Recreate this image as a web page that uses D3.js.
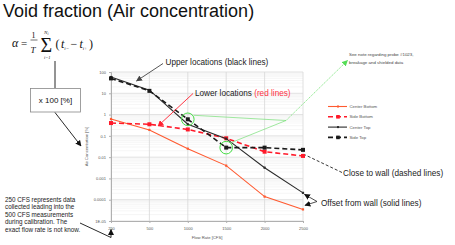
<!DOCTYPE html>
<html>
<head>
<meta charset="utf-8">
<script src="https://cdn.jsdelivr.net/npm/d3@7"></script>
<style>
  body { margin: 0; background: #fff; }
  svg { display: block; font-family: "Liberation Sans", Arial, sans-serif; }
</style>
</head>
<body>
<svg width="455" height="245"></svg>
<script>
// flow rates (categorical, equally spaced)
var flowRates = ["250", "500", "1000", "1500", "2000", "2500"];
var centerBottom = [0.62, 0.19, 0.025, 0.004, 0.00014, 0.000035];
var sideBottom = [0.40, 0.35, 0.20, 0.077, 0.018, 0.0114];
var centerTop = [58, 14, 0.35, 0.074, 0.0032, 0.00021];
var sideTop = [50, 13, 0.6, 0.028, 0.028, 0.022];
var yTicks = [100, 10, 1, 0.1, 0.01, 0.001, 0.0001, 0.00001];
var yTickLabels = ["100", "10", "1", "0.1", "0.01", "0.001", "0.0001", "1E-05"];

var series = [
  {name: "Center Bottom", values: centerBottom, color: "#ff5a30", dash: null, width: 1.1, marker: "small"},
  {name: "Side Bottom", values: sideBottom, color: "#ff1a2a", dash: "5,3", width: 1.6, marker: "square"},
  {name: "Center Top", values: centerTop, color: "#2a2a2a", dash: null, width: 1.1, marker: "small"},
  {name: "Side Top", values: sideTop, color: "#1a1a1a", dash: "5,3", width: 1.6, marker: "square"}
];

var svg = d3.select("svg");
var plot = {left: 111, right: 303, top: 72, bottom: 221};

var x = d3.scalePoint().domain(flowRates).range([plot.left, plot.right]);
var y = d3.scaleLog().domain([1e-5, 100]).range([plot.bottom, plot.top]);

// arrow markers
var defs = svg.append("defs");
function arrowMarker(id, color) {
  defs.append("marker")
    .attr("id", id)
    .attr("viewBox", "0 0 10 10")
    .attr("refX", 9).attr("refY", 5)
    .attr("markerWidth", 6).attr("markerHeight", 6)
    .attr("markerUnits", "userSpaceOnUse")
    .attr("orient", "auto")
    .append("path").attr("d", "M0,0 L10,5 L0,10 z").attr("fill", color);
}
arrowMarker("arBlack", "#111");
arrowMarker("arGray", "#444");
arrowMarker("arRed", "#ff2030");
arrowMarker("arGreen", "#55dd55");

// title
svg.append("text").attr("x", 3).attr("y", 17)
  .style("font-size", "18px").attr("fill", "#111")
  .text("Void fraction (Air concentration)");

// grid: minor horizontal
var minor = [];
for (var e = -5; e < 2; e++) {
  for (var m = 2; m <= 9; m++) minor.push(m * Math.pow(10, e));
}
var grid = svg.append("g");
grid.selectAll("line.minor").data(minor).enter().append("line")
  .attr("x1", plot.left).attr("x2", plot.right)
  .attr("y1", d => y(d)).attr("y2", d => y(d))
  .attr("stroke", "#ececec").attr("stroke-width", 0.5);
grid.selectAll("line.major").data(yTicks).enter().append("line")
  .attr("x1", plot.left).attr("x2", plot.right)
  .attr("y1", d => y(d)).attr("y2", d => y(d))
  .attr("stroke", "#d4d4d4").attr("stroke-width", 0.7);
grid.selectAll("line.vert").data(flowRates).enter().append("line")
  .attr("x1", d => x(d)).attr("x2", d => x(d))
  .attr("y1", plot.top).attr("y2", plot.bottom)
  .attr("stroke", "#d8d8d8").attr("stroke-width", 0.8);

// axes
var yAxis = svg.append("g").attr("transform", "translate(" + plot.left + ",0)")
  .call(d3.axisLeft(y).tickValues(yTicks).tickSize(2)
    .tickFormat((d, i) => yTickLabels[i]));
yAxis.select(".domain").attr("stroke", "#b0b0b0");
yAxis.selectAll(".tick line").attr("stroke", "#b0b0b0");
yAxis.selectAll("text").attr("fill", "#555").style("font-size", "4px")
  .attr("font-family", "Liberation Sans, Arial, sans-serif");

var xAxis = svg.append("g").attr("transform", "translate(0," + plot.bottom + ")")
  .call(d3.axisBottom(x).tickSize(2));
xAxis.select(".domain").attr("stroke", "#b0b0b0");
xAxis.selectAll(".tick line").attr("stroke", "#b0b0b0");
xAxis.selectAll("text").attr("fill", "#555").style("font-size", "4px")
  .attr("font-family", "Liberation Sans, Arial, sans-serif").attr("dy", "0.9em");

svg.append("text").attr("x", (plot.left + plot.right) / 2 + 0).attr("y", 238.5)
  .attr("text-anchor", "middle").attr("fill", "#555").style("font-size", "4.2px")
  .text("Flow Rate [CFS]");
svg.append("text")
  .attr("transform", "translate(87.5," + ((plot.top + plot.bottom) / 2) + ") rotate(-90)")
  .attr("text-anchor", "middle").attr("fill", "#555").style("font-size", "4.2px")
  .text("Air Concentration [%]");

// series
var line = d3.line().x((d, i) => x(flowRates[i])).y(d => y(d));
series.forEach(function(s) {
  svg.append("path").datum(s.values)
    .attr("d", line).attr("fill", "none")
    .attr("stroke", s.color).attr("stroke-width", s.width)
    .attr("stroke-dasharray", s.dash);
  var sz = s.marker === "square" ? 4 : 2.2;
  svg.selectAll(null).data(s.values).enter().append("rect")
    .attr("x", (d, i) => x(flowRates[i]) - sz / 2)
    .attr("y", d => y(d) - sz / 2)
    .attr("width", sz).attr("height", sz)
    .attr("fill", s.color);
});

// legend
var legend = svg.append("g");
series.forEach(function(s, i) {
  var ly = 106.5 + i * 10.3;
  legend.append("line").attr("x1", 328).attr("x2", 347).attr("y1", ly).attr("y2", ly)
    .attr("stroke", s.color).attr("stroke-width", s.width).attr("stroke-dasharray", s.dash);
  var sz = s.marker === "square" ? 3.6 : 2;
  legend.append("rect").attr("x", 338 - sz / 2).attr("y", ly - sz / 2)
    .attr("width", sz).attr("height", sz).attr("fill", s.color);
  legend.append("text").attr("x", 349.5).attr("y", ly + 1.5)
    .attr("fill", "#555").style("font-size", "4.3px").text(s.name);
});

// formula
var f = svg.append("g").attr("font-family", "Liberation Serif, Times New Roman, serif").attr("fill", "#111");
f.append("text").attr("x", 12).attr("y", 47).style("font-size", "12px").style("font-style", "italic").text("\u03B1");
f.append("text").attr("x", 21).attr("y", 47).style("font-size", "11px").text("=");
f.append("text").attr("x", 31.5).attr("y", 37.5).style("font-size", "8px").text("1");
f.append("line").attr("x1", 30.5).attr("x2", 37.5).attr("y1", 40).attr("y2", 40).attr("stroke", "#111").attr("stroke-width", 0.6);
f.append("text").attr("x", 30.5).attr("y", 52.5).style("font-size", "9px").style("font-style", "italic").text("T");
f.append("text").attr("x", 40.5).attr("y", 52).style("font-size", "20px").text("\u03A3");
f.append("text").attr("x", 44).attr("y", 33.5).style("font-size", "5px").style("font-style", "italic").text("N");
f.append("text").attr("x", 47.5).attr("y", 35).style("font-size", "3.5px").style("font-style", "italic").text("i");
f.append("text").attr("x", 44).attr("y", 58.5).style("font-size", "4.5px").style("font-style", "italic").text("i=1");
var expr = f.append("text").attr("x", 55.5).attr("y", 48).style("font-size", "12px");
expr.append("tspan").text("(");
expr.append("tspan").style("font-style", "italic").attr("dx", 1.5).text("t");
expr.append("tspan").style("font-size", "5px").style("font-style", "italic").attr("dy", 2).text("i\u2212");
expr.append("tspan").attr("dy", -2).attr("dx", 1.5).text("\u2212");
expr.append("tspan").style("font-style", "italic").attr("dx", 2).text("t");
expr.append("tspan").style("font-size", "5px").style("font-style", "italic").attr("dy", 2).text("i+");
expr.append("tspan").attr("dy", -2).attr("dx", 1.5).text(")");

// x 100 box
svg.append("line").attr("x1", 55).attr("x2", 55).attr("y1", 61).attr("y2", 88)
  .attr("stroke", "#111").attr("stroke-width", 0.9);
svg.append("rect").attr("x", 30.5).attr("y", 88.5).attr("width", 50).attr("height", 23.5)
  .attr("fill", "#fff").attr("stroke", "#888").attr("stroke-width", 0.8);
svg.append("text").attr("x", 55.5).attr("y", 103).attr("text-anchor", "middle")
  .style("font-size", "8px").attr("fill", "#111").text("x 100 [%]");
svg.append("line").attr("x1", 55).attr("y1", 112.5).attr("x2", 81).attr("y2", 146)
  .attr("stroke", "#111").attr("stroke-width", 0.9).attr("marker-end", "url(#arBlack)");

// bottom left note
var note = ["250 CFS represents data", "collected leading into the", "500 CFS measurements",
  "during calibration. The", "exact flow rate is not know."];
svg.append("g").selectAll("text").data(note).enter().append("text")
  .attr("x", 5).attr("y", (d, i) => 201.5 + i * 7.6)
  .style("font-size", "6.3px").attr("fill", "#222").text(d => d);
svg.append("path")
  .attr("d", "M80," + 223 + " L" + x("250") + ",237.5 L" + x("250") + ",229.5")
  .attr("fill", "none").attr("stroke", "#111").attr("stroke-width", 0.9)
  .attr("marker-end", "url(#arBlack)");

// upper locations
svg.append("text").attr("x", 165.5).attr("y", 65)
  .style("font-size", "8.2px").attr("fill", "#222").text("Upper locations (black lines)");
svg.append("line").attr("x1", 163).attr("y1", 63.5).attr("x2", 136.5).attr("y2", 81)
  .attr("stroke", "#444").attr("stroke-width", 0.9).attr("marker-end", "url(#arGray)");

// lower locations
var lower = svg.append("text").attr("x", 195).attr("y", 95.5)
  .style("font-size", "8.2px").attr("fill", "#222");
lower.append("tspan").text("Lower locations ");
lower.append("tspan").attr("fill", "#ff3344").text("(red lines)");
svg.append("line").attr("x1", 193).attr("y1", 93.5).attr("x2", 158).attr("y2", 126)
  .attr("stroke", "#ff2030").attr("stroke-width", 0.9).attr("marker-end", "url(#arRed)");

// probe note with green lines
svg.append("text").attr("x", 349).attr("y", 56)
  .style("font-size", "4.4px").attr("fill", "#444").text("See note regarding probe #1023,");
svg.append("text").attr("x", 349).attr("y", 63.5)
  .style("font-size", "4.4px").attr("fill", "#444").text("breakage and shielded data");
var hub = [286, 120.5];
var c1 = [x("1000"), y(sideTop[2])], c2 = [x("1500"), y(sideTop[3])];
svg.append("line").attr("x1", hub[0]).attr("y1", hub[1]).attr("x2", 347.5).attr("y2", 60.5)
  .attr("stroke", "#66e066").attr("stroke-width", 0.7).attr("stroke-dasharray", "1.5,0.8")
  .attr("marker-end", "url(#arGreen)");
svg.append("line").attr("x1", hub[0]).attr("y1", hub[1]).attr("x2", c1[0] + 6).attr("y2", c1[1] - 4)
  .attr("stroke", "#77e077").attr("stroke-width", 0.7);
svg.append("line").attr("x1", hub[0]).attr("y1", hub[1]).attr("x2", c2[0] + 5).attr("y2", c2[1] - 5)
  .attr("stroke", "#77e077").attr("stroke-width", 0.7);
[c1, c2].forEach(function(c) {
  svg.append("circle").attr("cx", c[0]).attr("cy", c[1]).attr("r", 6.3)
    .attr("fill", "none").attr("stroke", "#44dd44").attr("stroke-width", 1);
});

// close to wall
svg.append("text").attr("x", 343).attr("y", 176)
  .style("font-size", "8.2px").attr("fill", "#222").text("Close to wall (dashed lines)");
svg.append("line").attr("x1", 342).attr("y1", 172.5).attr("x2", x("2500") + 2).attr("y2", y(sideTop[5]) + 5)
  .attr("stroke", "#222").attr("stroke-width", 0.9).attr("stroke-dasharray", "3,2");

// offset from wall
svg.append("text").attr("x", 321).attr("y", 205.5)
  .style("font-size", "8.2px").attr("fill", "#222").text("Offset from wall (solid lines)");
svg.append("line").attr("x1", 317).attr("y1", 201.5).attr("x2", x("2500") + 1.5).attr("y2", y(centerTop[5]) + 1.5)
  .attr("stroke", "#222").attr("stroke-width", 0.8).attr("marker-end", "url(#arBlack)");
svg.append("line").attr("x1", 317).attr("y1", 201.5).attr("x2", x("2500") + 2).attr("y2", y(centerBottom[5]) - 4)
  .attr("stroke", "#222").attr("stroke-width", 0.8).attr("marker-end", "url(#arBlack)");
</script>
</body>
</html>
